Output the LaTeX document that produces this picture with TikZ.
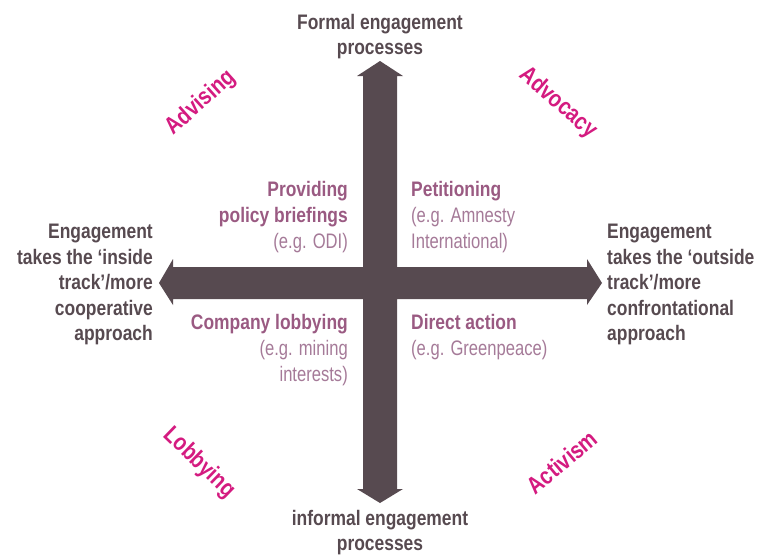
\documentclass[tikz,border=0pt]{standalone}
\usepackage{fontspec}
\setmainfont[FakeStretch=0.83]{Liberation Sans}
\newfontfamily\exfont[FakeStretch=0.79]{Liberation Sans}
\definecolor{arrowc}{HTML}{574A50}
\definecolor{darktxt}{HTML}{574A50}
\definecolor{headc}{HTML}{9A5A82}
\definecolor{exc}{HTML}{A57A98}
\definecolor{magc}{HTML}{D41B80}
\begin{document}
\begin{tikzpicture}[x=1pt,y=-1pt,
  dark/.style={inner sep=0pt, text=darktxt, font=\fontsize{21}{25.5}\selectfont\bfseries},
  quad/.style={inner sep=0pt, text=exc, font=\fontsize{21}{26}\selectfont},
  corner/.style={inner sep=0pt, text=magc, font=\fontsize{24}{28}\selectfont\bfseries}]
\useasboundingbox (0,0) rectangle (764,555);
% the double arrow cross
\fill[arrowc] (363,76) -- (357,76) -- (380,61) -- (403,76) -- (397,76) -- (397,267)
  -- (587,267) -- (587,259) -- (602,283) -- (587,305) -- (587,299) -- (397,299)
  -- (397,489) -- (403,489) -- (380,503) -- (357,489) -- (363,489) -- (363,299)
  -- (173,299) -- (173,305) -- (159,283) -- (173,259) -- (173,267) -- (363,267) -- cycle;
% axis labels
\node[dark, anchor=north, align=center] (formal) at (380,14) {Formal engagement\\processes};
\node[dark, anchor=north, align=center] (informal) at (380,510) {informal engagement\\processes};
\node[dark, anchor=north east, align=right] (inside) at (153,224) {Engagement\\takes the ‘inside\\track’/more\\cooperative\\approach};
\node[dark, anchor=north west, align=left] (outside) at (607,224) {Engagement\\takes the ‘outside\\track’/more\\confrontational\\approach};
% quadrant texts
\node[quad, anchor=north east, align=right] (brief) at (348,181) {\textcolor{headc}{\bfseries Providing}\\\textcolor{headc}{\bfseries policy briefings}\\{\exfont (e.g. ODI)}};
\node[quad, anchor=north west, align=left] (petition) at (411,181) {\textcolor{headc}{\bfseries Petitioning}\\{\exfont (e.g. Amnesty}\\{\exfont International)}};
\node[quad, anchor=north east, align=right] (company) at (348,314) {\textcolor{headc}{\bfseries Company lobbying}\\{\exfont (e.g. mining}\\{\exfont interests)}};
\node[quad, anchor=north west, align=left] (direct) at (411,314) {\textcolor{headc}{\bfseries Direct action}\\{\exfont (e.g. Greenpeace)}};
% corner labels
\node[corner, rotate=42] (advising) at (201,103) {Advising};
\node[corner, rotate=-41] (advocacy) at (558,103) {Advocacy};
\node[corner, rotate=-44] (lobbying) at (199,463) {Lobbying};
\node[corner, rotate=40] (activism) at (562,462) {Activism};
\end{tikzpicture}
\end{document}
